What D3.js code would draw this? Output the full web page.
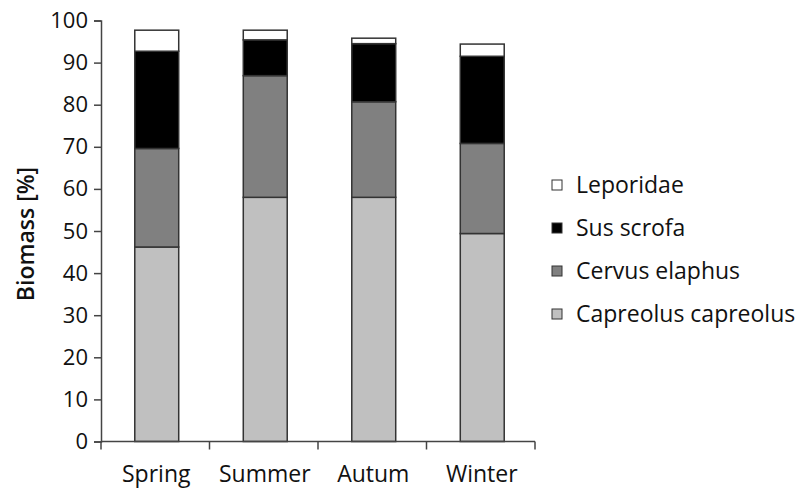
<!DOCTYPE html>
<html>
<head>
<meta charset="utf-8">
<script src="https://cdn.jsdelivr.net/npm/d3@7"></script>
<style>
  body { margin: 0; background: #fff; }
  text { font-family: "Open Sans", sans-serif; fill: #111; }
</style>
</head>
<body>
<div id="chart"></div>
<script>
// seasons and species shares (% of biomass)
var seasons = ["Spring", "Summer", "Autum", "Winter"];
var species = ["Capreolus capreolus", "Cervus elaphus", "Sus scrofa", "Leporidae"];
var capreolus = [46.2, 58.0, 58.0, 49.4];
var cervus = [23.4, 28.9, 22.7, 21.4];
var sus = [23.1, 8.5, 13.8, 20.7];
var leporidae = [5.0, 2.3, 1.3, 2.9];
var yTicks = [0, 10, 20, 30, 40, 50, 60, 70, 80, 90, 100];

var width = 801, height = 491;

// table for d3.stack
var rows = seasons.map(function(s, i) {
  return {
    season: s,
    "Capreolus capreolus": capreolus[i],
    "Cervus elaphus": cervus[i],
    "Sus scrofa": sus[i],
    "Leporidae": leporidae[i]
  };
});

var color = d3.scaleOrdinal()
  .domain(species)
  .range(["#c0c0c0", "#808080", "#000000", "#ffffff"]);

var x = d3.scaleBand()
  .domain(seasons)
  .range([101, 535])
  .paddingInner(0.595)
  .paddingOuter(0.2975);

var y = d3.scaleLinear()
  .domain([0, 100])
  .range([441.5, 20.5]);

var svg = d3.select("#chart").append("svg")
  .attr("width", width)
  .attr("height", height);

var stack = d3.stack().keys(species)(rows);

svg.append("g")
  .selectAll("g")
  .data(stack)
  .enter().append("g")
  .attr("fill", function(d) { return color(d.key); })
  .selectAll("rect")
  .data(function(d) { return d; })
  .enter().append("rect")
  .attr("x", function(d) { return x(d.data.season) + 1.5; })
  .attr("y", function(d) { return y(d[1]); })
  .attr("width", x.bandwidth())
  .attr("height", function(d) { return y(d[0]) - y(d[1]); })
  .attr("stroke", "#333")
  .attr("stroke-width", 1.5);

// y axis
var yAxis = svg.append("g")
  .attr("transform", "translate(101,0)")
  .call(d3.axisLeft(y).tickValues(yTicks).tickSize(7).tickPadding(6));
yAxis.attr("font-size", 22).attr("font-family", "'Open Sans', sans-serif");
yAxis.select(".domain").attr("stroke", "#444").attr("stroke-width", 1.5);
yAxis.selectAll(".tick line").attr("stroke", "#444").attr("stroke-width", 1.5);
yAxis.selectAll("text").attr("fill", "#111");

// x axis with ticks between categories
var xAxis = svg.append("g")
  .attr("transform", "translate(0," + y(0) + ")");
xAxis.append("line")
  .attr("x1", 101).attr("x2", 535)
  .attr("stroke", "#444").attr("stroke-width", 1.5);
xAxis.selectAll(".sep")
  .data(seasons.concat([null]))
  .enter().append("line")
  .attr("class", "sep")
  .attr("x1", function(d, i) { return 101 + i * x.step(); })
  .attr("x2", function(d, i) { return 101 + i * x.step(); })
  .attr("y1", 0).attr("y2", 8)
  .attr("stroke", "#444").attr("stroke-width", 1.5);
xAxis.selectAll(".lbl")
  .data(seasons)
  .enter().append("text")
  .attr("class", "lbl")
  .attr("x", function(d) { return x(d) + x.bandwidth() / 2 + 1; })
  .attr("y", 40)
  .attr("text-anchor", "middle")
  .style("font-size", "23px")
  .text(function(d) { return d; });

// y label
svg.append("text")
  .attr("transform", "translate(34,234) rotate(-90)")
  .attr("text-anchor", "middle")
  .style("font-size", "23px")
  .style("font-weight", "600")
  .text("Biomass [%]");

// legend, top entry is the top of the stack
var legend = svg.append("g")
  .selectAll("g")
  .data(species.slice().reverse())
  .enter().append("g")
  .attr("transform", function(d, i) { return "translate(552," + (185 + i * 43) + ")"; });

legend.append("rect")
  .attr("x", 0).attr("y", -5)
  .attr("width", 10).attr("height", 10)
  .attr("fill", function(d) { return color(d); })
  .attr("stroke", "#333").attr("stroke-width", 1);

legend.append("text")
  .attr("x", 24).attr("y", 8)
  .style("font-size", "23px")
  .text(function(d) { return d; });
</script>
</body>
</html>
